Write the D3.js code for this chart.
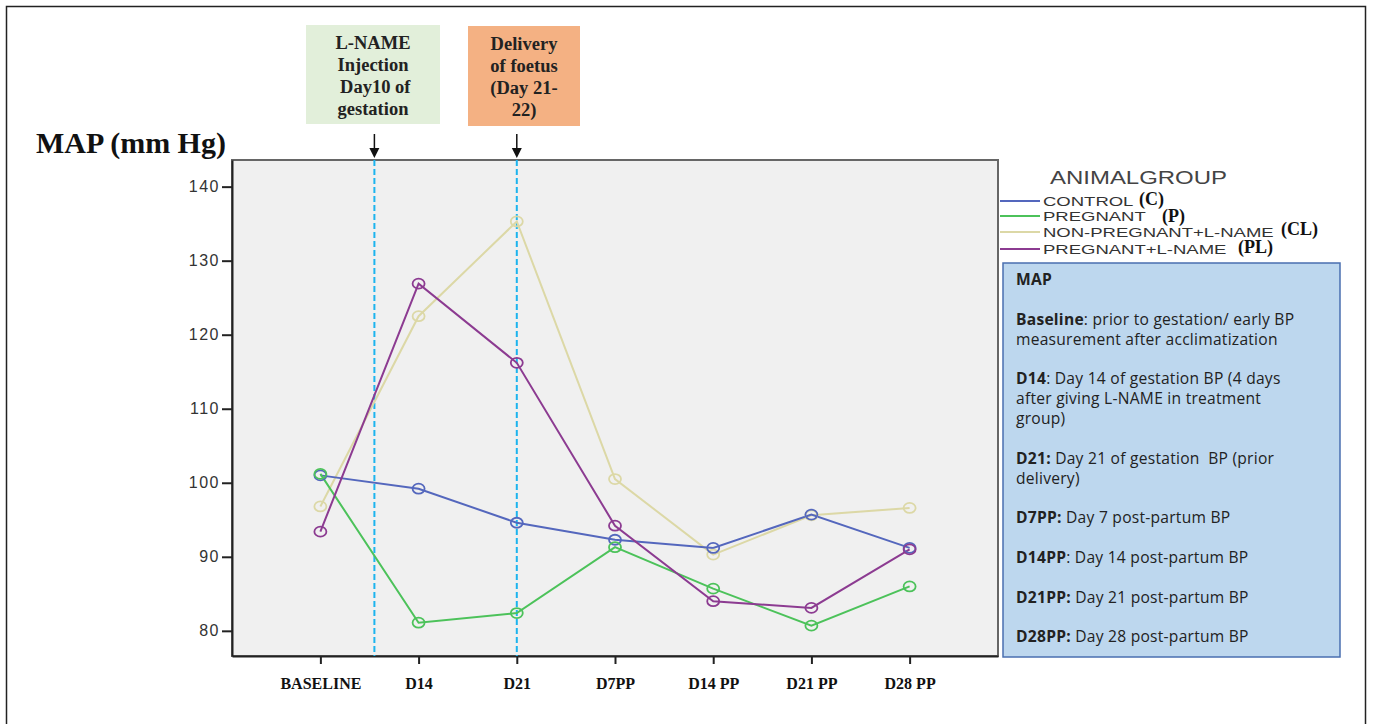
<!DOCTYPE html>
<html>
<head>
<meta charset="utf-8">
<script src="https://cdn.jsdelivr.net/npm/d3@7"></script>
<style>
body { margin: 0; background: #fff; }
svg { display: block; }
</style>
</head>
<body>
<svg width="1373" height="724"></svg>
<script>
// data
var timepoints = ["BASELINE", "D14", "D21", "D7PP", "D14 PP", "D21 PP", "D28 PP"];
var yTicks = [80, 90, 100, 110, 120, 130, 140];
var groups = ["CONTROL", "PREGNANT", "NON-PREGNANT+L-NAME", "PREGNANT+L-NAME"];
var groupTags = ["(C)", "(P)", "(CL)", "(PL)"];
var control = [101.0, 99.2, 94.6, 92.3, 91.2, 95.7, 91.2];
var pregnant = [101.2, 81.1, 82.4, 91.3, 85.7, 80.7, 86.0];
var nonPregLname = [96.8, 122.5, 135.3, 100.5, 90.3, 95.6, 96.6];
var pregLname = [93.4, 126.9, 116.2, 94.2, 84.0, 83.1, 91.0];
var colors = ["#5467bd", "#4cc25a", "#dcd8a6", "#8c3b91"];
var notes = [
  [["MAP", true]],
  null,
  [["Baseline", true], [": prior to gestation/ early BP", false]],
  [["measurement after acclimatization", false]],
  null,
  [["D14", true], [": Day 14 of gestation BP (4 days", false]],
  [["after giving L-NAME in treatment", false]],
  [["group)", false]],
  null,
  [["D21:", true], [" Day 21 of gestation  BP (prior", false]],
  [["delivery)", false]],
  null,
  [["D7PP:", true], [" Day 7 post-partum BP", false]],
  null,
  [["D14PP", true], [": Day 14 post-partum BP", false]],
  null,
  [["D21PP:", true], [" Day 21 post-partum BP", false]],
  null,
  [["D28PP:", true], [" Day 28 post-partum BP", false]]
];

var series = [control, pregnant, nonPregLname, pregLname];

var svg = d3.select("svg");

// outer frame
svg.append("rect").attr("x", 6.5).attr("y", 6.5).attr("width", 1359).attr("height", 730)
  .attr("fill", "none").attr("stroke", "#222").attr("stroke-width", 1.5);

var pLeft = 232, pRight = 998, pTop = 160, pBottom = 656;

var x = d3.scalePoint().domain(timepoints).range([pLeft, pRight]).padding(0.9);
var y = d3.scaleLinear().domain([76.6, 143.6]).range([pBottom, pTop]);

// plot background
svg.append("rect").attr("x", pLeft).attr("y", pTop).attr("width", pRight - pLeft).attr("height", pBottom - pTop)
  .attr("fill", "#f0f0f0").attr("stroke", "#666").attr("stroke-width", 2);

// axes
var yAxis = svg.append("g").attr("transform", "translate(" + pLeft + ",0)")
  .call(d3.axisLeft(y).tickValues(yTicks).tickSize(10).tickSizeOuter(0));
yAxis.select(".domain").attr("stroke", "#222").attr("stroke-width", 2);
yAxis.selectAll(".tick line").attr("stroke", "#222").attr("stroke-width", 2);
yAxis.selectAll(".tick text").attr("font-family", "Liberation Sans, Arial, sans-serif")
  .attr("font-size", 16).attr("fill", "#333").attr("letter-spacing", 1.5).attr("x", -12);

var xAxis = svg.append("g").attr("transform", "translate(0," + pBottom + ")")
  .call(d3.axisBottom(x).tickSize(8).tickSizeOuter(0));
xAxis.select(".domain").attr("stroke", "#222").attr("stroke-width", 2);
xAxis.selectAll(".tick line").attr("stroke", "#222").attr("stroke-width", 2);
xAxis.selectAll(".tick text").attr("font-family", "Liberation Serif, Times New Roman, serif")
  .attr("font-weight", "bold").attr("font-size", 16).attr("fill", "#111").attr("dy", 0).attr("y", 33);

// event markers
var eventX = [x("BASELINE") + 0.55 * x.step(), x("D21")];
svg.selectAll(".event").data(eventX).enter().append("line")
  .attr("x1", function(d) { return d; }).attr("x2", function(d) { return d; })
  .attr("y1", pTop).attr("y2", pBottom)
  .attr("stroke", "#1cb4ee").attr("stroke-width", 2).attr("stroke-dasharray", "6,3");

svg.selectAll(".arrow").data(eventX).enter().append("line")
  .attr("x1", function(d) { return d; }).attr("x2", function(d) { return d; })
  .attr("y1", 134).attr("y2", 150)
  .attr("stroke", "#111").attr("stroke-width", 1.5);
svg.selectAll(".head").data(eventX).enter().append("path")
  .attr("d", function(d) { return "M" + (d - 5) + ",148L" + (d + 5) + ",148L" + d + ",158Z"; })
  .attr("fill", "#111");

// series lines
var line = d3.line().x(function(d, i) { return x(timepoints[i]); }).y(function(d) { return y(d); });
var drawOrder = [2, 0, 1, 3];
drawOrder.forEach(function(k) {
  svg.append("path").datum(series[k]).attr("d", line)
    .attr("fill", "none").attr("stroke", colors[k]).attr("stroke-width", 2);
});
drawOrder.forEach(function(k) {
  svg.append("g").selectAll("ellipse").data(series[k]).enter().append("ellipse")
    .attr("cx", function(d, i) { return x(timepoints[i]); })
    .attr("cy", function(d) { return y(d); })
    .attr("rx", 6).attr("ry", 5)
    .attr("fill", "none").attr("stroke", colors[k]).attr("stroke-width", 1.8);
});

// y title
svg.append("text").attr("x", 36).attr("y", 153).text("MAP (mm Hg)")
  .attr("font-family", "Liberation Serif, Times New Roman, serif")
  .attr("font-weight", "bold").attr("font-size", 30).attr("fill", "#111");

// annotation boxes
var boxes = [
  {x: 306, y: 25, w: 134, h: 99, fill: "#e2efda", lines: ["L-NAME", "Injection", " Day10 of", "gestation"]},
  {x: 468, y: 26, w: 112, h: 100, fill: "#f4b183", lines: ["Delivery", "of foetus", "(Day 21-", "22)"]}
];
boxes.forEach(function(b) {
  svg.append("rect").attr("x", b.x).attr("y", b.y).attr("width", b.w).attr("height", b.h).attr("fill", b.fill);
  svg.append("text").attr("font-family", "Liberation Serif, Times New Roman, serif")
    .attr("font-weight", "bold").attr("font-size", 18.5).attr("fill", "#222")
    .attr("text-anchor", "middle")
    .selectAll("tspan").data(b.lines).enter().append("tspan")
    .attr("x", b.x + b.w / 2).attr("y", function(d, i) { return b.y + 24 + i * 22; })
    .attr("xml:space", "preserve").text(function(d) { return d; });
});

// legend
svg.append("text").attr("transform", "translate(1050,184) scale(1.37,1)").text("ANIMALGROUP")
  .attr("font-family", "Liberation Sans, Arial, sans-serif").attr("font-size", 17.5).attr("fill", "#444");
var legendY = [201, 216, 232, 249];
var tagX = [1139, 1162, 1281, 1238];
var tagDy = [4, 6, 3, 4];
var lg = svg.append("g").selectAll("g").data(groups).enter().append("g");
lg.append("line").attr("x1", 1000).attr("x2", 1040)
  .attr("y1", function(d, i) { return legendY[i]; }).attr("y2", function(d, i) { return legendY[i]; })
  .attr("stroke", function(d, i) { return colors[i]; }).attr("stroke-width", 2);
lg.append("text")
  .attr("transform", function(d, i) { return "translate(1043," + (legendY[i] + 5) + ") scale(1.37,1)"; })
  .text(function(d) { return d; })
  .attr("font-family", "Liberation Sans, Arial, sans-serif").attr("font-size", 13.5).attr("fill", "#333");
lg.append("text").attr("x", function(d, i) { return tagX[i]; })
  .attr("y", function(d, i) { return legendY[i] + tagDy[i]; })
  .text(function(d, i) { return groupTags[i]; })
  .attr("font-family", "Liberation Serif, Times New Roman, serif").attr("font-weight", "bold")
  .attr("font-size", 18).attr("fill", "#111");

// notes box
svg.append("rect").attr("x", 1003).attr("y", 263).attr("width", 337).attr("height", 394)
  .attr("fill", "#bdd7ee").attr("stroke", "#4a6fb0").attr("stroke-width", 1.5);
var nt = svg.append("g").attr("font-family", "Open Sans, Lato, sans-serif").attr("font-size", 15.6)
  .attr("letter-spacing", 0.25).attr("fill", "#222");
notes.forEach(function(parts, i) {
  if (!parts) return;
  var t = nt.append("text").attr("x", 1016).attr("y", 285 + i * 19.85).attr("xml:space", "preserve");
  parts.forEach(function(p) {
    t.append("tspan").text(p[0]).attr("font-weight", p[1] ? "bold" : "normal");
  });
});
</script>
</body>
</html>
